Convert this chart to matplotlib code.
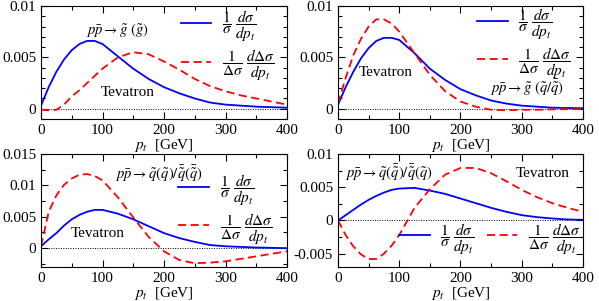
import matplotlib
matplotlib.use("Agg")
import matplotlib.pyplot as plt
from matplotlib.lines import Line2D
from matplotlib.ticker import MultipleLocator

plt.rcParams["font.family"] = "serif"
plt.rcParams["font.serif"] = ["Liberation Serif", "DejaVu Serif"]
plt.rcParams["mathtext.fontset"] = "stix"
plt.rcParams["font.size"] = 10

# pt grid (GeV)
pt = [0, 12.5, 25, 37.5, 50, 62.5, 75, 87.5, 100, 125, 150, 175, 200, 225,
      250, 275, 300, 325, 350, 375, 400]

# p pbar -> gluino (gluino)
g_sigma = [0.0003, 0.0021, 0.0036, 0.0048, 0.0057, 0.0063, 0.0066, 0.0066, 0.0063,
           0.0051, 0.0039, 0.0029, 0.0021, 0.0015, 0.0010, 0.0006, 0.0004, 0.0003,
           0.0002, 0.00015, 0.0001]
g_dsigma = [-0.0001, -0.00015, -0.0001, 0.0004, 0.0012, 0.0018, 0.0025, 0.0032, 0.0039,
            0.0050, 0.0055, 0.0053, 0.0046, 0.0038, 0.0029, 0.0022, 0.0017, 0.0013,
            0.0010, 0.0007, 0.0004]

# p pbar -> gluino (squark/antisquark)
gq_sigma = [0.0004, 0.0021, 0.0036, 0.0049, 0.0059, 0.0066, 0.0069, 0.0069, 0.0067,
            0.0054, 0.0039, 0.0028, 0.0019, 0.0013, 0.0008, 0.0005, 0.0003, 0.0002,
            0.0001, 0.00007, 0.00005]
gq_dsigma = [0.0005, 0.0030, 0.0052, 0.0068, 0.0080, 0.0087, 0.0087, 0.0083, 0.0075,
             0.0054, 0.0033, 0.0017, 0.0007, 0.0002, -0.0001, -0.00015, -0.0001,
             -0.0001, -0.00006, -0.00004, -0.00003]

# p pbar -> squark(squark) / antisquark(antisquark)
qq_sigma = [0.0003, 0.0014, 0.0024, 0.0036, 0.0046, 0.0053, 0.0058, 0.0061, 0.0061,
            0.0055, 0.0046, 0.0035, 0.0024, 0.0016, 0.0010, 0.0005, 0.0003, 0.0002,
            0.0001, 0.00005, 0.0]
qq_dsigma = [0.0003, 0.0058, 0.0084, 0.0101, 0.0111, 0.0117, 0.0118, 0.0115, 0.0108,
             0.0081, 0.0049, 0.0018, -0.0005, -0.0019, -0.0024, -0.0023, -0.0021,
             -0.0017, -0.0013, -0.0009, -0.0005]

# p pbar -> squark(antisquark) / antisquark(squark)
qa_sigma = [0.0, 0.0008, 0.0016, 0.0024, 0.0031, 0.0037, 0.0042, 0.0046, 0.0048,
            0.0049, 0.0045, 0.0040, 0.0033, 0.0026, 0.0019, 0.0013, 0.0008, 0.0005,
            0.0003, 0.00015, 0.0001]
qa_dsigma = [0.0, -0.0022, -0.0039, -0.0051, -0.0058, -0.0058, -0.0050, -0.0038, -0.0022,
             0.0019, 0.0047, 0.0069, 0.0079, 0.0079, 0.0071, 0.0059, 0.0046, 0.0035,
             0.0026, 0.0019, 0.0013]

panels = [
    dict(rect=[41, 6, 246, 113], s=g_sigma, d=g_dsigma, ylim=(-0.001, 0.01),
         ymin=0.001, yticks=[0, 0.005, 0.01], ylabels=["0", "0.005", "0.01"],
         proc=r"$p\bar{p}\rightarrow\tilde{g}\ (\tilde{g})$", proc_xy=(125, 0.0077),
         tev_xy=(141, 0.0016), leg=(0.76, 0.65), ncol=1),
    dict(rect=[338, 6, 245, 113], s=gq_sigma, d=gq_dsigma, ylim=(-0.001, 0.01),
         ymin=0.001, yticks=[0, 0.005, 0.01], ylabels=["0", "0.005", "0.01"],
         proc=r"$p\bar{p}\rightarrow\tilde{g}\ (\tilde{q}/\bar{\tilde{q}})$", proc_xy=(308, 0.0020),
         tev_xy=(78, 0.0035), leg=(0.76, 0.67), ncol=1),
    dict(rect=[41, 154, 246, 113], s=qq_sigma, d=qq_dsigma, ylim=(-0.003, 0.015),
         ymin=0.0025, yticks=[0, 0.005, 0.01, 0.015],
         ylabels=["0", "0.005", "0.01", "0.015"],
         proc=r"$p\bar{p}\rightarrow\tilde{q}(\tilde{q})/\bar{\tilde{q}}(\bar{\tilde{q}})$",
         proc_xy=(192, 0.0118), tev_xy=(93, 0.0024), leg=(0.75, 0.51), ncol=1),
    dict(rect=[338, 154, 245, 113], s=qa_sigma, d=qa_dsigma, ylim=(-0.007, 0.01),
         ymin=0.0025, yticks=[-0.005, 0, 0.005, 0.01],
         ylabels=["-0.005", "0", "0.005", "0.01"],
         proc=r"$p\bar{p}\rightarrow\tilde{q}(\bar{\tilde{q}})/\bar{\tilde{q}}(\tilde{q})$",
         proc_xy=(88, 0.0071), tev_xy=(335, 0.0071), leg=(0.62, 0.25), ncol=2),
]

W, H = 599, 301
fig = plt.figure(figsize=(W / 100, H / 100), dpi=100)

lab_s = r"$\dfrac{1}{\sigma}\ \dfrac{d\sigma}{dp_t}$"
lab_d = r"$\dfrac{1}{\Delta\sigma}\ \dfrac{d\Delta\sigma}{dp_t}$"

for p in panels:
    x0, y0, w, h = p["rect"]
    ax = fig.add_axes([x0 / W, 1 - (y0 + h) / H, w / W, h / H])

    ax.axhline(0, color="black", lw=0.7, ls=(0, (1, 1.5)))
    ax.plot(pt, p["s"], color="#0000ff", lw=1.3)
    ax.plot(pt, p["d"], color="#ff0000", lw=1.3, ls=(0, (4.5, 2.5)))

    ax.set_xlim(0, 400)
    ax.set_ylim(*p["ylim"])
    ax.xaxis.set_major_locator(MultipleLocator(100))
    ax.xaxis.set_minor_locator(MultipleLocator(50))
    ax.set_yticks(p["yticks"])
    ax.set_yticklabels(p["ylabels"])
    ax.yaxis.set_minor_locator(MultipleLocator(p["ymin"]))
    ax.tick_params(which="both", direction="in", top=True, right=True,
                   labelsize=11, width=0.8)
    ax.tick_params(which="major", length=5)
    ax.tick_params(which="minor", length=3)
    for sp in ax.spines.values():
        sp.set_linewidth(0.8)
    ax.set_xlabel(r"$p_t$  [GeV]", fontsize=11, labelpad=0)

    ha = "left" if p["ncol"] == 2 else "center"
    px = 11 if p["ncol"] == 2 else p["proc_xy"][0]
    ax.text(px, p["proc_xy"][1], p["proc"], ha=ha, va="center", fontsize=10.5)
    ax.text(*p["tev_xy"], "Tevatron", ha="center", va="center", fontsize=11)

    handles = [Line2D([], [], color="#0000ff", lw=1.3),
               Line2D([], [], color="#ff0000", lw=1.3, ls=(0, (4.5, 2.5)))]
    ax.legend(handles, [lab_s, lab_d], loc="center", bbox_to_anchor=p["leg"],
              frameon=False, ncol=p["ncol"], handlelength=2.0, handletextpad=0.7,
              labelspacing=0.2, columnspacing=0.8, fontsize=11, borderpad=0)

fig.savefig("out.png", dpi=100)
